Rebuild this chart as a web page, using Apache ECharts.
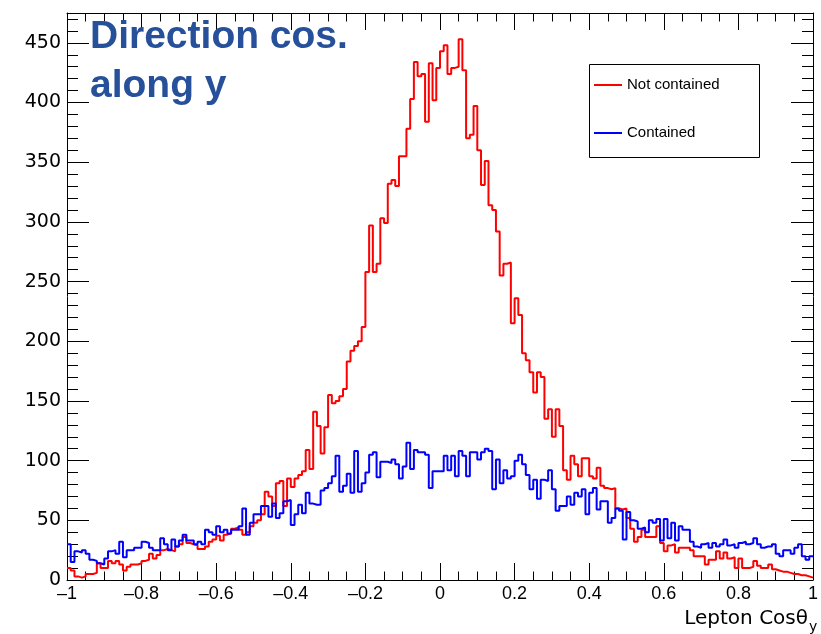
<!DOCTYPE html>
<html>
<head>
<meta charset="utf-8">
<script src="https://cdn.jsdelivr.net/npm/echarts@6/dist/echarts.min.js"></script>
<style>html,body{margin:0;padding:0;background:#fff;}#c{width:821px;height:634px;}</style>
</head>
<body>
<div id="c"></div>
<script>
// Histogram: 200 bins from -1 to 1
const binMin = -1, binMax = 1, nBins = 200;
const seriesNames = ['Not contained', 'Contained'];
const notContained = [
10,8,3,2,3,5,5,6,14,10, 10,16,14,16,13,8,11,13,13,14, 16,17,22,18,21,25,26,25,24,28, 30,36,31,30,29,26,26,28,32,34, 37,33,38,39,43,44,42,38,
40,45,48,50,55,74,70,62,81,83, 62,85,78,85,88,91,109,93,141,129, 106,128,155,148,150,154,160,
183,192,196,200,212,258,297,258,265,303, 299,332,335,330,355,355,378,403,434,422, 424,384,433,402,429,443,448,424,429,430,
453,427,370,373,397,360,331,351,314,310, 292,255,265,266,215,236,222,190,184,174, 157,174,170,135,143,120,143,129,92,84,
104,97,87,102,102,87,85,94,79,77, 76,
77,60,59,60,52,43,32,36,42,36, 36,36,45,31,24,29,30,23,27,27, 27,25,20,20,20,13,17,17,24,18, 23,18,19,10,18,10,10,11,16,12,
10,10,13,9,8,7,7,6,5,5, 4,4,3,2
];
const contained = [
30,15,24,23,25,22,17,16,14,13, 18,24,25,22,32,19,25,25,27,27, 32,31,27,25,25,35,30,25,34,28, 33,38,33,33,30,32,30,42,40,38, 45,40,42,39,42,42,45,60,
38,48,55,55,62,62,53,64,52,56, 66,67,46,55,63,56,73,64,63,63, 75,77,81,87,104,74,79,89,73,108, 74,81,90,105,107,86,99,99,98,101,
97,85,95,115,93,109,107,107,105,77,
91,91,91,104,92,104,87,108,104,87, 107,107,101,107,110,108,76,101,81,92, 85,87,100,105,97,88,76,84,68,84, 83,92,76,58,62,62,70,63,73,70,
76,55,73,77,59,66,66,48,
52,60,58,34,57,50,49,43,44,40, 50,48,51,33,51,35,48,33,45,42, 42,32,28,27,30,31,27,31,28,30, 34,29,30,27,31,32,30,31,35,30,
27,28,28,30,22,20,25,25,22,27, 30,20,17,20
];
const yTicks = [0,50,100,150,200,250,300,350,400,450];
const xTicks = [-1,-0.8,-0.6,-0.4,-0.2,0,0.2,0.4,0.6,0.8,1];

function toSteps(vals){
  const w = (binMax - binMin) / nBins;
  const pts = vals.map((v,i)=>[binMin + i*w, v]);
  pts.push([binMax, vals[vals.length-1]]);
  return pts;
}
const FONT = 'Liberation Sans, Arial, Helvetica, sans-serif';
const WIDE = 'DejaVu Sans, Verdana, sans-serif';
function fmtX(v){
  const r = Math.round(v*10)/10;
  if (xTicks.indexOf(r) < 0) return '';
  if (r === 0) return '0';
  return (r<0?'\u2013':'') + String(Math.abs(r));
}
const axisCommon = {
  axisLine:{show:true,onZero:false,lineStyle:{color:'#000',width:1}},
  splitLine:{show:false}
};
const chart = echarts.init(document.getElementById('c'), null, {renderer:'canvas'});
chart.setOption({
  animation:false,
  backgroundColor:'#fff',
  grid:{left:67,right:1,top:13,bottom:54,containLabel:false},
  xAxis:[
    Object.assign({type:'value',min:binMin,max:binMax,interval:0.2,position:'bottom',
      axisTick:{show:true,inside:true,length:17,lineStyle:{color:'#000'}},
      minorTick:{show:true,splitNumber:4,length:8.5,lineStyle:{color:'#000'}},
      axisLabel:{show:true,color:'#000',fontSize:18,fontFamily:FONT,margin:5,formatter:fmtX,showMaxLabel:true,showMinLabel:true}
    },axisCommon),
    Object.assign({type:'value',min:binMin,max:binMax,interval:0.2,position:'top',
      axisTick:{show:true,inside:true,length:17,lineStyle:{color:'#000'}},
      minorTick:{show:true,splitNumber:4,length:8.5,lineStyle:{color:'#000'}},
      axisLabel:{show:false}
    },axisCommon)
  ],
  yAxis:[
    Object.assign({type:'value',min:0,max:475,interval:50,position:'left',
      axisTick:{show:true,inside:true,length:22,lineStyle:{color:'#000'}},
      minorTick:{show:true,splitNumber:5,length:11,lineStyle:{color:'#000'}},
      axisLabel:{show:true,color:'#000',fontSize:19,fontFamily:WIDE,margin:6,showMaxLabel:false,
        formatter:function(v){return yTicks.indexOf(v)>=0?String(v):'';}}
    },axisCommon),
    Object.assign({type:'value',min:0,max:475,interval:50,position:'right',
      axisTick:{show:true,inside:true,length:22,lineStyle:{color:'#000'}},
      minorTick:{show:true,splitNumber:5,length:11,lineStyle:{color:'#000'}},
      axisLabel:{show:false}
    },axisCommon)
  ],
  legend:{
    data:seriesNames,orient:'vertical',left:594,top:77,padding:0,
    itemWidth:28,itemHeight:2,itemGap:32,icon:'rect',
    textStyle:{fontSize:15,fontFamily:FONT,color:'#000',lineHeight:16}
  },
  graphic:[
    {type:'rect',left:587,top:62,shape:{width:170,height:93},style:{fill:'none',stroke:'#000',lineWidth:1},z:1},
    {type:'text',left:90,top:18,style:{text:'Direction cos.',font:'bold 39px '+FONT,fill:'#27509b'},z:10},
    {type:'text',left:90,top:67,style:{text:'along y',font:'bold 39px '+FONT,fill:'#27509b'},z:10},
    {type:'text',right:13,top:609,style:{text:'Lepton Cos\u03b8',font:'20px '+WIDE,fill:'#000'},z:10},
    {type:'text',left:809,top:620,style:{text:'y',font:'14px '+WIDE,fill:'#000'},z:10}
  ],
  series:[
    {name:seriesNames[0],type:'line',step:'end',symbol:'none',data:toSteps(notContained),
      lineStyle:{color:'#ff0000',width:2},itemStyle:{color:'#ff0000'},z:2},
    {name:seriesNames[1],type:'line',step:'end',symbol:'none',data:toSteps(contained),
      lineStyle:{color:'#0000ff',width:2},itemStyle:{color:'#0000ff'},z:3}
  ]
});
</script>
</body>
</html>
